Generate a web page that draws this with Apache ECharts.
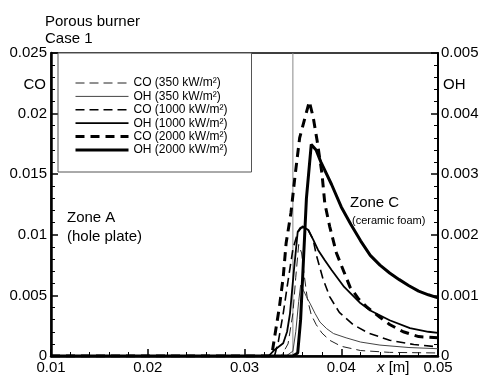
<!DOCTYPE html>
<html>
<head>
<meta charset="utf-8">
<script src="https://cdn.jsdelivr.net/npm/echarts@6/dist/echarts.min.js"></script>
<style>html,body{margin:0;padding:0;background:#fff}#c{width:480px;height:375px}</style>
</head>
<body>
<div id="c"></div>
<script>
// ---- data (x in m, CO mole fraction on left axis, OH on right axis) ----
const seriesNames = ['CO (350 kW/m²)', 'OH (350 kW/m²)', 'CO (1000 kW/m²)', 'OH (1000 kW/m²)', 'CO (2000 kW/m²)', 'OH (2000 kW/m²)'];
const xTicks = [0.01, 0.02, 0.03, 0.04, 0.05];
const coTicks = [0, 0.005, 0.01, 0.015, 0.02, 0.025];
const ohTicks = [0, 0.001, 0.002, 0.003, 0.004, 0.005];
const zoneBoundary = [[0.035, 0], [0.035, 0.025]];

const co350 = [[0.0100,0],[0.0338,0],[0.0345,0.0010],[0.0350,0.0035],[0.0353,0.0065],[0.0356,0.0092],[0.0359,0.0085],[0.0362,0.0065],[0.0365,0.0047],[0.0369,0.0034],[0.0374,0.0026],[0.0380,0.0019],[0.0388,0.0013],[0.0400,0.0008],[0.0420,0.00045],[0.0450,0.0003],[0.0500,0.00025]];
const oh350 = [[0.0100,0],[0.0343,0],[0.0350,0.00008],[0.0353,0.0004],[0.0356,0.0009],[0.0358,0.00117],[0.0361,0.00108],[0.0364,0.00098],[0.0368,0.00086],[0.0373,0.0007],[0.0378,0.00056],[0.0385,0.00045],[0.0392,0.00037],[0.0405,0.0003],[0.0420,0.00023],[0.0440,0.00018],[0.0470,0.00014],[0.0500,0.00012]];
const co1000 = [[0.0100,0],[0.0331,0],[0.0335,0.0012],[0.0340,0.0035],[0.0345,0.0062],[0.0350,0.0088],[0.0355,0.0102],[0.0360,0.0107],[0.0365,0.0105],[0.0371,0.0096],[0.0374,0.0084],[0.0381,0.0064],[0.0388,0.0049],[0.0398,0.0036],[0.0412,0.0026],[0.0428,0.0019],[0.0450,0.0013],[0.0475,0.00095],[0.0500,0.00075]];
const oh1000 = [[0.0100,0],[0.0325,0],[0.0331,0.0001],[0.0340,0.00021],[0.0344,0.0004],[0.0347,0.0007],[0.0351,0.0014],[0.0355,0.00205],[0.0358,0.00212],[0.0362,0.00212],[0.0366,0.00208],[0.0371,0.00192],[0.0376,0.00175],[0.0383,0.00158],[0.0390,0.00142],[0.0403,0.00114],[0.0420,0.00087],[0.0430,0.00075],[0.0450,0.00059],[0.0471,0.00046],[0.0490,0.0004],[0.0500,0.00038]];
const co2000 = [[0.0100,0],[0.0326,0],[0.0329,0.0005],[0.0331,0.0015],[0.0336,0.0040],[0.0340,0.0065],[0.0343,0.0093],[0.0348,0.0118],[0.0352,0.0147],[0.0357,0.0180],[0.0362,0.0195],[0.0367,0.0210],[0.0371,0.0197],[0.0375,0.0178],[0.0380,0.0151],[0.0383,0.0126],[0.0388,0.0107],[0.0395,0.0085],[0.0402,0.0071],[0.0409,0.0057],[0.0418,0.0047],[0.0427,0.0040],[0.0440,0.0032],[0.0450,0.0026],[0.0464,0.0020],[0.0480,0.0016],[0.0500,0.0015]];
const oh2000 = [[0.0100,0],[0.0350,0],[0.0355,0.00005],[0.0358,0.0006],[0.0361,0.0016],[0.0364,0.0026],[0.0369,0.00349],[0.0374,0.0034],[0.0379,0.0032],[0.0390,0.00283],[0.0400,0.00246],[0.0410,0.00217],[0.0420,0.0019],[0.0430,0.00166],[0.0440,0.0015],[0.0450,0.00137],[0.0460,0.00126],[0.0470,0.00116],[0.0480,0.00107],[0.0490,0.00101],[0.0500,0.00096]];

const font = '"Liberation Sans", Arial, Helvetica, sans-serif';
const chart = echarts.init(document.getElementById('c'), null, {renderer: 'canvas'});

function fmt(v, d) { return v === 0 ? '0' : String(+v.toFixed(d)); }

const styles = [
  {w: 1, type: [9, 5], color: '#222'},
  {w: 1, type: 'solid', color: '#444'},
  {w: 1.6, type: [9, 5], color: '#000'},
  {w: 1.8, type: 'solid', color: '#000'},
  {w: 3, type: [9, 6], color: '#000'},
  {w: 3, type: 'solid', color: '#000'}
];
const datasets = [co350, oh350, co1000, oh1000, co2000, oh2000];

const series = [{
  name: 'zone boundary',
  type: 'line',
  yAxisIndex: 0,
  data: zoneBoundary,
  symbol: 'none',
  silent: true,
  lineStyle: {width: 1, color: '#888', type: 'solid'},
  z: 2
}].concat(datasets.map((d, i) => ({
  name: seriesNames[i],
  type: 'line',
  yAxisIndex: i % 2,
  data: d,
  symbol: 'none',
  showSymbol: false,
  clip: true,
  lineStyle: {width: styles[i].w, type: styles[i].type, color: styles[i].color},
  itemStyle: {color: styles[i].color},
  z: 3 + i
})));

const axisTick = {show: true, inside: true, length: 7, lineStyle: {color: '#000', width: 1.5}};
const minorTick = {show: true, splitNumber: 5, length: 4, lineStyle: {color: '#000', width: 1}};

chart.setOption({
  animation: false,
  backgroundColor: '#fff',
  textStyle: {fontFamily: font},
  title: {
    text: 'Porous burner\nCase 1',
    left: 45, top: 13, padding: 0,
    textStyle: {fontSize: 15, fontWeight: 'normal', color: '#000', fontFamily: font, lineHeight: 17}
  },
  grid: {left: 51, right: 42, top: 53, bottom: 19, show: true, borderColor: '#000', borderWidth: 1.5, outerBoundsMode: 'none', containLabel: false},
  legend: {
    orient: 'vertical', left: 58, top: 53,
    padding: [24, 24, 16, 16],
    itemWidth: 53, itemHeight: 10, itemGap: 1.4,
    borderColor: '#555', borderWidth: 1,
    backgroundColor: '#fff',
    selectedMode: false,
    itemStyle: {opacity: 0, color: 'transparent', borderWidth: 0},
    textStyle: {fontSize: 12, color: '#000', fontFamily: font},
    data: seriesNames.map((n, i) => ({
      name: n,
      itemStyle: {opacity: 0, color: 'transparent', borderWidth: 0},
      lineStyle: {width: styles[i].w, type: styles[i].type, color: styles[i].color, opacity: 1}
    }))
  },
  xAxis: {
    type: 'value', min: xTicks[0], max: xTicks[xTicks.length - 1], interval: 0.01,
    axisLine: {show: true, lineStyle: {color: '#000', width: 2.5}},
    axisTick: axisTick, minorTick: minorTick,
    splitLine: {show: false},
    axisLabel: {fontSize: 15, color: '#000', margin: 4, fontFamily: font, showMinLabel: true, showMaxLabel: true, formatter: v => v.toFixed(2)}
  },
  yAxis: [
    {
      type: 'value', min: coTicks[0], max: coTicks[coTicks.length - 1], interval: 0.005,
      position: 'left',
      axisLine: {show: true, lineStyle: {color: '#000', width: 2.5}},
      axisTick: axisTick, minorTick: minorTick,
      splitLine: {show: false},
      axisLabel: {fontSize: 15, color: '#000', margin: 4, fontFamily: font, showMinLabel: true, showMaxLabel: true, formatter: v => fmt(v, 3)}
    },
    {
      type: 'value', min: ohTicks[0], max: ohTicks[ohTicks.length - 1], interval: 0.001,
      position: 'right',
      axisLine: {show: true, lineStyle: {color: '#000', width: 2}},
      axisTick: axisTick, minorTick: minorTick,
      splitLine: {show: false},
      axisLabel: {fontSize: 15, color: '#000', margin: 3, fontFamily: font, showMinLabel: true, showMaxLabel: true, formatter: v => fmt(v, 3)}
    }
  ],
  graphic: [
    {type: 'text', right: 434, top: 77, style: {text: 'CO', fill: '#000', font: '15px ' + font}},
    {type: 'text', left: 443, top: 77, style: {text: 'OH', fill: '#000', font: '15px ' + font}},
    {type: 'text', left: 67, top: 208, style: {text: 'Zone A\n(hole plate)', fill: '#000', font: '15px ' + font, lineHeight: 19}},
    {type: 'text', left: 350, top: 195, style: {text: 'Zone C', fill: '#000', font: '15px ' + font}},
    {type: 'text', left: 352, top: 215, style: {text: '(ceramic foam)', fill: '#000', font: '11px ' + font}},
    {type: 'text', left: 377, top: 360, style: {text: '{i|x} [m]', fill: '#000', font: '15px ' + font,
      rich: {i: {fontStyle: 'italic', fontSize: 15, fontFamily: font}}}}
  ],
  series: series
});
</script>
</body>
</html>
